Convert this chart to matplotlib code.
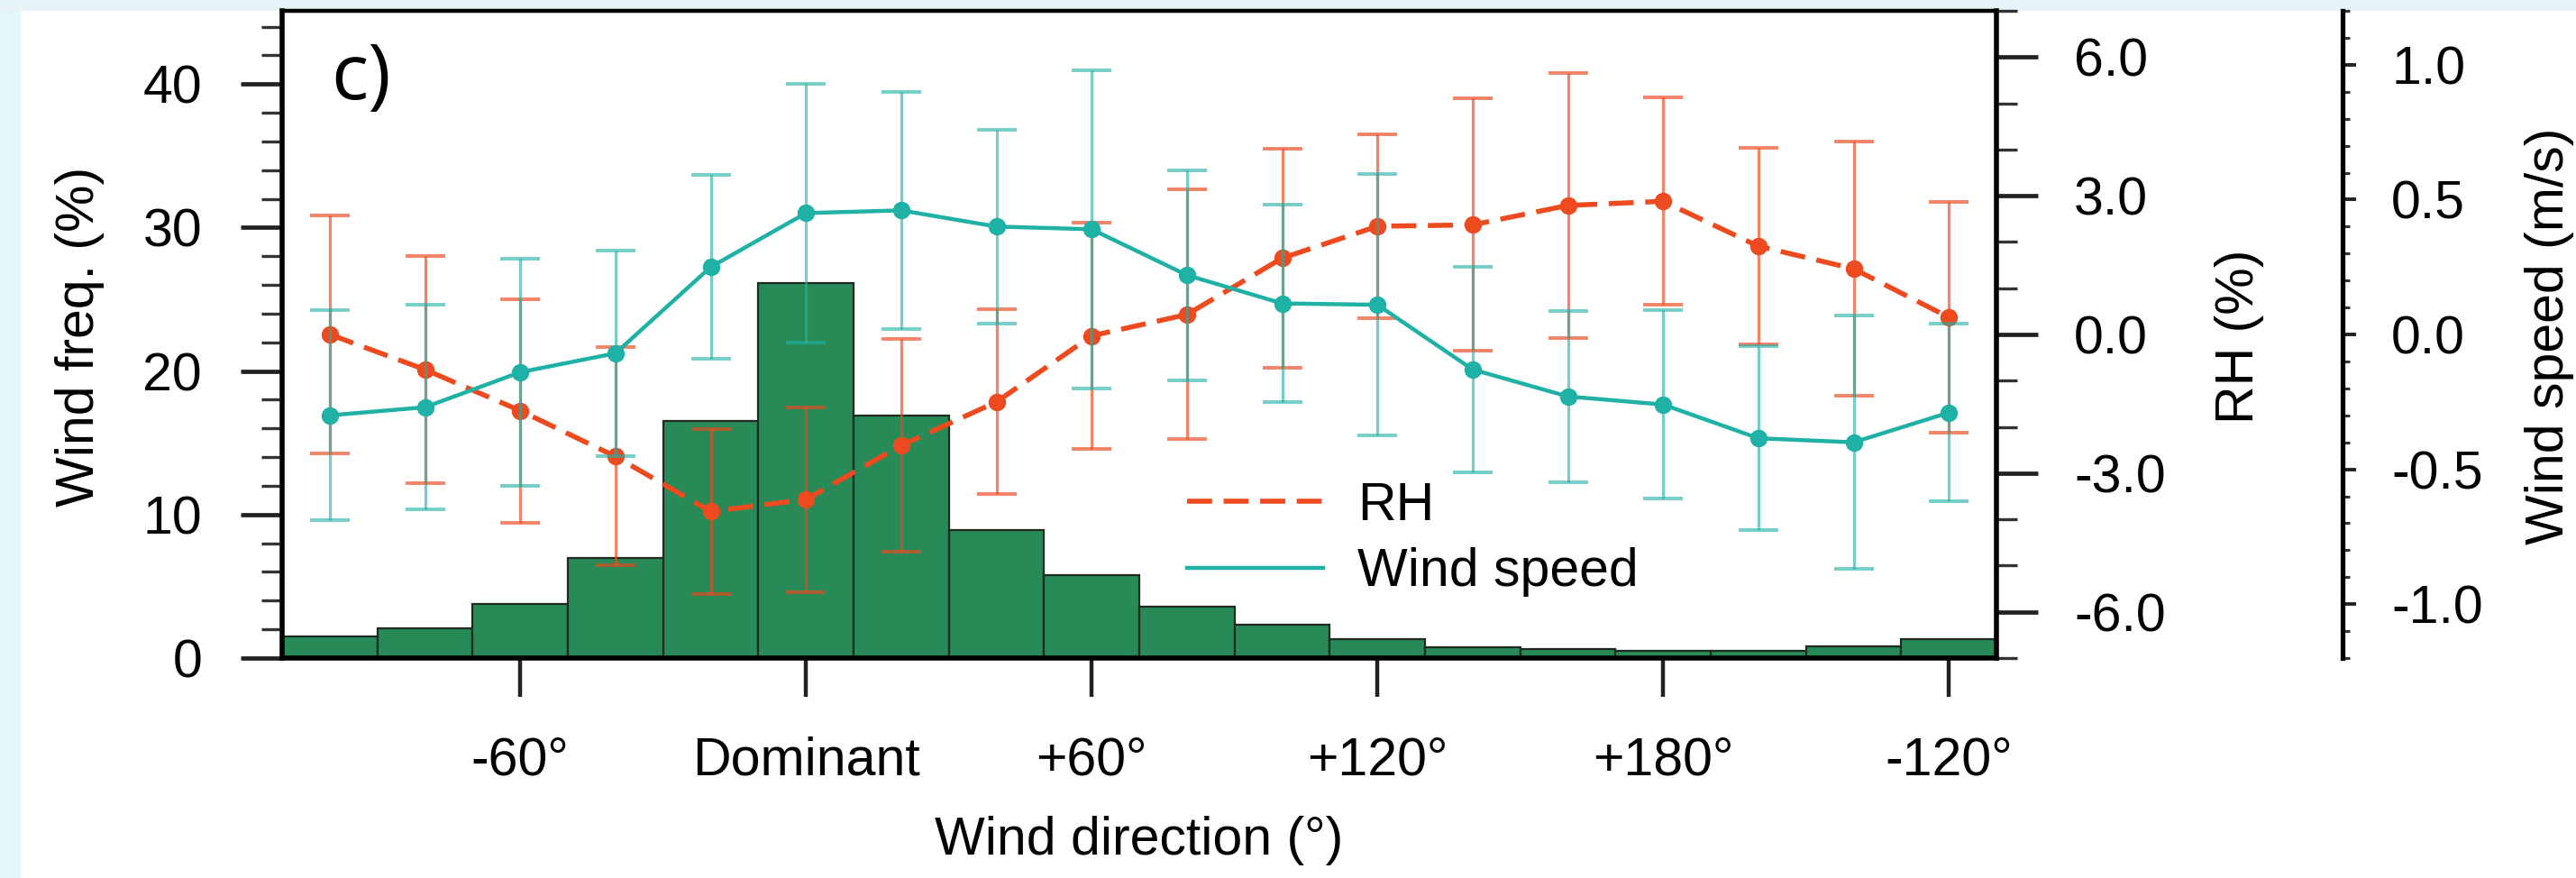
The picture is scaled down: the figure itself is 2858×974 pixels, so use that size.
import numpy as np
import matplotlib
matplotlib.use("Agg")
import matplotlib.pyplot as plt
from matplotlib.ticker import MultipleLocator, FormatStrFormatter, FixedLocator
from matplotlib.lines import Line2D
from matplotlib.patches import Rectangle

# ---------------- data ----------------
direction = [-100, -80, -60, -40, -20, 0, 20, 40, 60, 80, 100, 120, 140, 160, 180, 200, 220, 240]
tick_pos = [-60, 0, 60, 120, 180, 240]
tick_labels = ["-60°", "Dominant", "+60°", "+120°", "+180°", "-120°"]
wind_freq = [1.5, 2.1, 3.8, 7.0, 16.5, 26.1, 16.9, 8.9, 5.75, 3.6, 2.3, 1.3, 0.75, 0.6, 0.5, 0.5, 0.8, 1.3]
rh = [0.0, -0.76, -1.65, -2.64, -3.83, -3.57, -2.40, -1.46, -0.03, 0.43, 1.65, 2.34, 2.37, 2.79, 2.88, 1.91, 1.42, 0.37]
rh_err = [2.58, 2.46, 2.42, 2.36, 1.78, 2.0, 2.3, 2.0, 2.45, 2.7, 2.37, 1.98, 2.73, 2.87, 2.24, 2.13, 2.75, 2.5]
ws = [-0.30, -0.27, -0.14, -0.07, 0.25, 0.45, 0.46, 0.40, 0.39, 0.22, 0.115, 0.11, -0.13, -0.23, -0.26, -0.385, -0.40, -0.29]
ws_err = [0.39, 0.38, 0.42, 0.38, 0.34, 0.48, 0.44, 0.36, 0.59, 0.39, 0.365, 0.485, 0.38, 0.317, 0.35, 0.34, 0.47, 0.33]

plt.rcParams['font.family'] = ['Liberation Sans', 'DejaVu Sans']
plt.rcParams['axes.unicode_minus'] = False

W, H = 2858, 974
fig = plt.figure(figsize=(W / 100, H / 100), dpi=100)
fig.patch.set_facecolor('white')
# light frame strips
fig.patches.append(Rectangle((0, 0), 22 / W, 1, transform=fig.transFigure, color='#e3f6f9', zorder=-10))
fig.patches.append(Rectangle((0, 1 - 11 / H), 1, 11 / H, transform=fig.transFigure, color='#e6f4f7', zorder=-10))

L, R, T, B = 313, 2215, 12, 730
ax = fig.add_axes([L / W, 1 - B / H, (R - L) / W, (B - T) / H])

FS = 42.5
GREEN = '#288a57'
RED = '#ee4a1f'
TEAL = '#1fb1a6'

ax.bar(direction, wind_freq, width=20, color=GREEN, edgecolor='#1f2a22', linewidth=1.6, zorder=1)
ax.set_xlim(-110, 250)
ax.set_ylim(0, 45.1)
ax.yaxis.set_major_locator(FixedLocator([0, 10, 20, 30, 40]))
ax.yaxis.set_minor_locator(MultipleLocator(2))
ax.set_xticks(tick_pos)
ax.set_xticklabels(tick_labels)
ax.tick_params(axis='y', which='major', length=33, width=3.4, labelsize=FS, pad=31, color='#222222')
ax.tick_params(axis='y', which='minor', length=16.5, width=2.4, color='#333333')
ax.tick_params(axis='x', which='major', length=31, width=3.2, labelsize=FS, pad=31, color='#222222')
for s in ['left', 'bottom']:
    ax.spines[s].set_linewidth(4.0)
ax.spines['top'].set_linewidth(3.2)
ax.spines['right'].set_visible(False)

# RH axis
ax2 = ax.twinx()
ax2.errorbar(direction, rh, yerr=rh_err, fmt='none', ecolor=RED, alpha=0.68,
             elinewidth=2.3, capsize=16, capthick=2.8, zorder=2)
ax2.plot(direction, rh, color=RED, lw=4.0, linestyle=(0, (5.0, 2.3)),
         marker='o', markersize=13, zorder=4)
ax2.set_ylim(-7, 7)
ax2.yaxis.set_major_locator(FixedLocator([-6, -3, 0, 3, 6]))
ax2.yaxis.set_minor_locator(MultipleLocator(1))
ax2.yaxis.set_major_formatter(FormatStrFormatter('%.1f'))
ax2.tick_params(axis='y', which='major', length=33, width=3.4, labelsize=FS, pad=29, color='#222222')
ax2.tick_params(axis='y', which='minor', length=16.5, width=2.4, color='#333333')
for s in ['left', 'top', 'bottom']:
    ax2.spines[s].set_visible(False)
ax2.spines['right'].set_linewidth(4.0)

# Wind speed axis
ax3 = ax.twinx()
ax3.spines['right'].set_position(('axes', (2599 - L) / (R - L)))
ax3.errorbar(direction, ws, yerr=ws_err, fmt='none', ecolor=TEAL, alpha=0.62,
             elinewidth=2.3, capsize=16, capthick=2.8, zorder=2)
ax3.plot(direction, ws, color=TEAL, lw=3.2, marker='o', markersize=13, zorder=4)
ax3.set_ylim(-1.2, 1.2)
ax3.yaxis.set_major_locator(FixedLocator([-1.0, -0.5, 0.0, 0.5, 1.0]))
ax3.yaxis.set_minor_locator(MultipleLocator(0.1))
ax3.yaxis.set_major_formatter(FormatStrFormatter('%.1f'))
ax3.tick_params(axis='y', which='major', length=11, width=2.8, labelsize=FS, pad=28, color='#222222')
ax3.tick_params(axis='y', which='minor', length=6, width=2.2, color='#333333')
for s in ['left', 'top', 'bottom']:
    ax3.spines[s].set_visible(False)
ax3.spines['right'].set_linewidth(3.8)

# axis labels
fig.text(89 / W, 1 - 373 / H, "Wind freq. (%)", rotation=90, ha='center', va='center', fontsize=FS)
fig.text(2485 / W, 1 - 373 / H, "RH (%)", rotation=90, ha='center', va='center', fontsize=FS)
fig.text(2829 / W, 1 - 373 / H, "Wind speed (m/s)", rotation=90, ha='center', va='center', fontsize=FS)
fig.text(1264 / W, 1 - 932 / H, "Wind direction (°)", ha='center', va='center', fontsize=FS)

# panel label
fig.text(367 / W, 1 - 88 / H, "c)", ha='left', va='center', fontsize=62, family=['Open Sans', 'DejaVu Sans'])

# legend
handles = [Line2D([], [], color=RED, lw=4.0, linestyle=(0, (5.0, 2.3))),
           Line2D([], [], color=TEAL, lw=3.2)]
leg = ax3.legend(handles, ["RH", "Wind speed"], loc='center left',
                 bbox_to_anchor=((1317 - L) / (R - L), (B - 598) / (B - T)),
                 frameon=False, fontsize=FS, handlelength=2.55, handletextpad=0.65,
                 labelspacing=0.32, borderpad=0, borderaxespad=0)

fig.savefig("out.png", dpi=100)
